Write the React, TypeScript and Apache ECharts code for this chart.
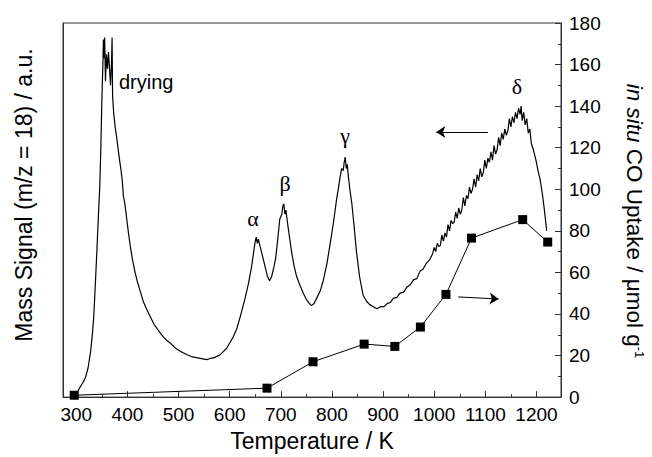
import React, { useEffect, useRef } from "react";
import * as echarts from "echarts";

// ---- data ----
const tempTicks = [300, 400, 500, 600, 700, 800, 900, 1000, 1100, 1200];
const tempMinorTicks = [350, 450, 550, 650, 750, 850, 950, 1050, 1150];

// in situ CO uptake (right axis, µmol g-1)
const coTemp = [296, 673, 763, 863, 923, 973, 1023, 1073, 1173, 1222];
const coUptake = [0.9, 4.3, 17.0, 25.5, 24.4, 33.7, 49.4, 76.5, 85.4, 74.6];

// mass signal m/z = 18 (left axis, a.u.) as [temperature K, signal]
const massSignal: [number, number][] = [
  [298, 1.2], [303, 2.8], [308, 5.0], [313, 7.0], [318, 9.5], [323, 14], [328, 22], [331, 29], [334, 38], [337, 53],
  [340, 69], [343, 86], [346, 102], [348, 120], [350, 143], [352, 160], [353, 172], [354.5, 163], [355.5, 173], [357, 152],
  [359, 165], [361, 158], [363, 166], [365, 158], [367, 150], [369, 162], [370, 173], [371, 145], [373, 137], [376, 130],
  [379, 125], [383, 117], [387, 110], [390, 104], [392, 97], [395, 93], [398, 87], [402, 79], [406, 72], [410, 66],
  [415, 60], [420, 55], [425, 51], [431, 46], [438, 42], [445, 38.5], [452, 35], [458, 33], [465, 30.5], [472, 28.5],
  [478, 27], [484, 26], [492, 24], [500, 22.5], [508, 21.5], [516, 20.5], [525, 19.5], [535, 19], [545, 18.5], [555, 18],
  [562, 18.6], [570, 19], [581, 20.3], [588, 22], [594, 23.5], [600, 26], [607, 29], [614, 33], [621, 39], [630, 47.5],
  [637, 55], [643, 63], [647, 70], [650, 75], [652, 77], [654, 74], [656, 76], [659, 73], [663, 69], [669, 63],
  [674, 58], [678, 56], [682, 58], [686, 62], [690, 67], [694, 76], [698, 85.7], [702, 88], [704, 92], [706, 93],
  [708, 88], [710, 90], [713, 84], [717, 77], [721, 70], [726, 63], [731, 58], [737, 54], [744, 50], [750, 47],
  [756, 45], [760, 44], [765, 45], [770, 47.5], [777, 51], [783, 56], [790, 64], [796, 73], [803, 84], [809, 95],
  [813, 101], [816, 106], [819, 110], [822, 109], [824, 113], [826, 115.5], [828, 110], [830, 112], [832, 106.5], [835, 100],
  [839, 93], [843, 83], [848, 70], [854, 58], [861, 49], [868, 46], [874, 44.5], [881, 43.5], [888, 42.5], [895, 43.5],
  [902, 43.5], [908, 45], [914, 45.5], [920, 47.5], [927, 48], [933, 50], [940, 50.5], [947, 53], [953, 54], [960, 56.5],
  [966, 57], [972, 60.5], [978, 61.5], [985, 64.5], [991, 66], [997, 69], [1000, 72], [1003, 70], [1006, 74], [1009, 72.5],
  [1012, 73], [1015, 78], [1018, 75], [1021, 79], [1024, 77], [1027, 83], [1030, 80], [1033, 85], [1036, 83.5], [1039, 84],
  [1042, 89], [1045, 86], [1048, 91], [1051, 88], [1054, 90], [1057, 96], [1060, 92], [1063, 97], [1066, 95.5], [1069, 101],
  [1072, 98], [1075, 100], [1078, 105], [1081, 101], [1084, 107], [1087, 104], [1090, 110], [1093, 106], [1096, 108], [1099, 114],
  [1102, 110], [1105, 115], [1108, 113], [1111, 118], [1114, 114], [1117, 121], [1120, 117], [1123, 119], [1126, 125], [1129, 121],
  [1132, 127], [1135, 124], [1138, 129], [1141, 126], [1144, 128], [1147, 134], [1150, 130], [1153, 135], [1156, 132], [1159, 137],
  [1162, 134], [1165, 139], [1168, 136], [1170, 140], [1172, 133], [1175, 137], [1178, 131], [1181, 134], [1184, 127], [1187, 129],
  [1190, 122], [1194, 119], [1199, 114], [1203, 109], [1207, 105], [1212, 97], [1216, 89], [1220, 80],
];

// annotation arrows: [from, to] in data coordinates
const leftArrow: [number, number][] = [[1105, 127.5], [1004, 127.5]];
const rightArrow: [number, number][] = [[1047, 48.2], [1126, 47.2]];

const FONT = "'Liberation Sans', Arial, Helvetica, sans-serif";
const SERIF = "'Liberation Serif', 'Times New Roman', serif";
const AXIS_COLOR = "#333";

export default function App() {
  const ref = useRef<HTMLDivElement>(null);

  useEffect(() => {
    document.body.style.margin = "0";
    if (!ref.current) return;
    const chart = echarts.init(ref.current, undefined, { renderer: "svg" });

    const coData = coTemp.map((t, i) => [t, coUptake[i]]);

    const arrowMarkLine = (pts: [number, number][]) => ({
      silent: true,
      symbol: ["none", "arrow"],
      symbolSize: [8, 9],
      label: { show: false },
      itemStyle: { color: "#000" },
      lineStyle: { color: "#000", width: 1, type: "solid" },
      emphasis: { disabled: true },
      data: [[{ coord: pts[0], symbol: "none" }, { coord: pts[1], symbol: "arrow", symbolSize: 9 }]],
    });

    const option: any = {
      animation: false,
      backgroundColor: "#fff",
      textStyle: { fontFamily: FONT },
      grid: {
        left: 63,
        right: 91,
        top: 23,
        bottom: 58,
        show: true,
        borderColor: AXIS_COLOR,
        borderWidth: 1,
        backgroundColor: "transparent",
      },
      xAxis: [
        {
          type: "value",
          min: 274,
          max: 1248,
          name: "Temperature / K",
          nameLocation: "middle",
          nameGap: 31,
          nameTextStyle: { fontSize: 23, color: "#000", fontFamily: FONT },
          axisLine: { show: true, lineStyle: { color: AXIS_COLOR, width: 1 } },
          axisTick: {
            show: true,
            inside: true,
            length: 6,
            customValues: tempTicks,
            lineStyle: { color: AXIS_COLOR },
          },
          axisLabel: {
            show: true,
            customValues: tempTicks,
            formatter: (v: number) => String(v),
            fontSize: 19,
            color: "#000",
            margin: 8,
            fontFamily: FONT,
          },
          splitLine: { show: false },
        },
        {
          type: "value",
          position: "bottom",
          min: 274,
          max: 1248,
          axisLine: { show: false },
          axisTick: {
            show: true,
            inside: true,
            length: 3,
            customValues: tempMinorTicks,
            lineStyle: { color: AXIS_COLOR },
          },
          axisLabel: { show: false },
          splitLine: { show: false },
        },
      ],
      yAxis: [
        {
          type: "value",
          position: "left",
          min: 0,
          max: 180,
          axisLine: { show: true, lineStyle: { color: AXIS_COLOR } },
          axisTick: { show: false },
          axisLabel: { show: false },
          splitLine: { show: false },
        },
        {
          type: "value",
          position: "right",
          min: 0,
          max: 180,
          interval: 20,
          axisLine: { show: true, lineStyle: { color: AXIS_COLOR } },
          axisTick: { show: true, inside: true, length: 6, lineStyle: { color: AXIS_COLOR } },
          minorTick: { show: true, splitNumber: 2, length: 3, lineStyle: { color: AXIS_COLOR } },
          axisLabel: { show: true, fontSize: 19, color: "#000", margin: 8, fontFamily: FONT },
          splitLine: { show: false },
        },
      ],
      series: [
        {
          name: "Mass Signal (m/z = 18)",
          type: "line",
          xAxisIndex: 0,
          yAxisIndex: 0,
          data: massSignal,
          showSymbol: false,
          color: "#000",
          lineStyle: { color: "#000", width: 1.2 },
          silent: true,
          markLine: arrowMarkLine(leftArrow),
        },
        {
          name: "in situ CO Uptake",
          type: "line",
          xAxisIndex: 0,
          yAxisIndex: 1,
          data: coData,
          symbol: "rect",
          symbolSize: 9,
          showSymbol: true,
          color: "#000",
          itemStyle: { color: "#000" },
          lineStyle: { color: "#000", width: 1 },
          silent: true,
          markLine: arrowMarkLine(rightArrow),
        },
      ],
      graphic: [
        {
          type: "text",
          x: 24,
          y: 195,
          rotation: Math.PI / 2,
          style: {
            text: "Mass Signal (m/z = 18) / a.u.",
            fontSize: 23,
            fontFamily: FONT,
            fill: "#000",
            align: "center",
            verticalAlign: "middle",
          },
        },
        {
          type: "text",
          x: 634,
          y: 221,
          rotation: -Math.PI / 2,
          style: {
            text: "{it|in situ} CO Uptake / \u03bcmol g{sup|-1}",
            fontSize: 22.5,
            fontFamily: FONT,
            fill: "#000",
            align: "center",
            verticalAlign: "middle",
            rich: {
              it: { fontStyle: "italic", fontSize: 22.5, fontFamily: FONT, fill: "#000" },
              sup: { fontSize: 13, fontFamily: FONT, fill: "#000", verticalAlign: "top" },
            },
          },
        },
        {
          type: "text",
          x: 119,
          y: 82,
          style: {
            text: "drying",
            fontSize: 20,
            fontFamily: FONT,
            fill: "#000",
            align: "left",
            verticalAlign: "middle",
          },
        },
        {
          type: "text",
          x: 253,
          y: 218,
          style: { text: "\u03b1", fontSize: 22, fontFamily: SERIF, fill: "#000", align: "center", verticalAlign: "middle" },
        },
        {
          type: "text",
          x: 285,
          y: 183,
          style: { text: "\u03b2", fontSize: 22, fontFamily: SERIF, fill: "#000", align: "center", verticalAlign: "middle" },
        },
        {
          type: "text",
          x: 345,
          y: 135,
          style: { text: "\u03b3", fontSize: 22, fontFamily: SERIF, fill: "#000", align: "center", verticalAlign: "middle" },
        },
        {
          type: "text",
          x: 517,
          y: 86,
          style: { text: "\u03b4", fontSize: 22, fontFamily: SERIF, fill: "#000", align: "center", verticalAlign: "middle" },
        },
      ],
    };

    chart.setOption(option);
    return () => chart.dispose();
  }, []);

  return <div ref={ref} style={{ width: 652, height: 457, background: "#fff" }} />;
}
